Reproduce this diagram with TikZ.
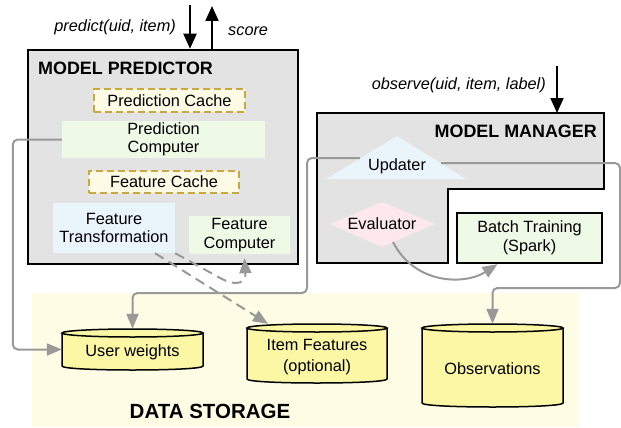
\documentclass[tikz,border=0pt]{standalone}
\usepackage{fontspec}
\setmainfont{Liberation Sans}
\usetikzlibrary{arrows.meta}
\definecolor{boxgray}{HTML}{E3E3E3}
\definecolor{cachefill}{HTML}{FDFBE6}
\definecolor{cacheline}{HTML}{C9A83E}
\definecolor{greenfill}{HTML}{EEF9E6}
\definecolor{bluefill}{HTML}{E9F4FB}
\definecolor{pinkfill}{HTML}{FDE8EE}
\definecolor{storefill}{HTML}{FEFCE5}
\definecolor{cylfill}{HTML}{FBF7A5}
\definecolor{conn}{HTML}{999999}
\newcommand\mytxt{\fontsize{16.3}{18.5}\selectfont}
\newcommand\mytitle{\fontsize{17.9}{20}\selectfont\bfseries}
\newcommand\dbcyl[6]{%
  \pgfmathsetmacro\cylcx{(#2+#3)/2}%
  \pgfmathsetmacro\cylrx{(#3-#2)/2}%
  \pgfmathsetmacro\cylcy{(#4+#5)/2}%
  \pgfmathsetmacro\cylh{#5-#4+2*#6}%
  \fill[cylfill] (#2,#4) rectangle (#3,#5);
  \fill[cylfill] (#2,#5) .. controls (#2,#5+#6*4/3) and (#3,#5+#6*4/3) .. (#3,#5) -- cycle;
  \draw[line width=1.5pt] (#2,#4) -- (#2,#5) .. controls (#2,#5+#6*4/3) and (#3,#5+#6*4/3) .. (#3,#5) -- (#3,#4);
  \draw[line width=1.5pt, fill=cylfill] (\cylcx,#4) ellipse [x radius=\cylrx pt, y radius=#6pt];
  \node[inner sep=0pt, minimum width=\cylrx*2pt, minimum height=\cylh pt] (#1) at (\cylcx,\cylcy) {};
}
\tikzset{
  txt/.style={font=\mytxt, align=center, inner sep=0pt},
  bigbox/.style={draw=black, line width=2.5pt, fill=boxgray, inner sep=0pt},
  cachebox/.style={draw=cacheline, fill=cachefill, line width=1.6pt, dash pattern=on 7pt off 4pt, font=\mytxt, inner sep=0pt},
  compbox/.style={fill=greenfill, font=\mytxt, align=center, inner sep=0pt},
  transbox/.style={fill=bluefill, font=\mytxt, align=center, inner sep=0pt},
  batchbox/.style={draw=black, line width=2.5pt, fill=greenfill, font=\mytxt, align=center, inner sep=0pt},
  connector/.style={draw=conn, line width=2pt, rounded corners=5pt, -{Triangle[length=15pt,width=12pt]}},
  dashconn/.style={draw=conn, line width=2pt, dash pattern=on 10pt off 6pt, -{Triangle[length=15pt,width=12pt]}},
  callarrow/.style={draw=black, line width=2pt, -{Triangle[length=15pt,width=13pt]}},
}
\begin{document}
\begin{tikzpicture}[x=1pt,y=-1pt]
\useasboundingbox (0,0) rectangle (621,428);
% data storage background
\fill[storefill] (32,293) rectangle (579,427);
\node[font=\fontsize{20.5}{24}\selectfont\bfseries, inner sep=0pt] (dstitle) at (210,411) {DATA STORAGE};

% model predictor
\node[bigbox, minimum width=270pt, minimum height=214pt] (mp) at (163,157) {};
\node[font=\mytitle, anchor=west, inner sep=0pt] (mptitle) at (38,68) {MODEL PREDICTOR};
\node[cachebox, minimum width=151pt, minimum height=23pt] (pcache) at (169.5,100.5) {Prediction Cache};
\node[compbox, minimum width=203pt, minimum height=37pt] (pc) at (163.5,139.5) {Prediction\\Computer};
\node[cachebox, minimum width=150pt, minimum height=22pt] (fcache) at (164,182) {Feature Cache};
\node[transbox, minimum width=122pt, minimum height=50pt] (ft) at (114,228) {Feature\\Transformation};
\node[compbox, minimum width=101pt, minimum height=38pt] (fc) at (239.5,235) {Feature\\Computer};

% model manager
\draw[line width=2.5pt, fill=boxgray] (317,113) -- (604,113) coordinate (mmNE) -- (604,189) -- (448,189) -- (448,263) -- (317,263) -- cycle;
\node[font=\mytitle, anchor=east, inner sep=0pt] (mmtitle) at (597,131) {MODEL MANAGER};
\fill[bluefill] (326,179) -- (397,136) -- (466,179) -- cycle;
\node[txt] (upd) at (397,166) {Updater};
\coordinate (updL) at (360,158);
\coordinate (updR) at (441,163);
\fill[pinkfill] (330,224) -- (382,202) -- (435,224) -- (382,247) -- cycle;
\node[txt] (eval) at (382,224) {Evaluator};
\coordinate (evalS) at (393,242);
\node[batchbox, minimum width=145pt, minimum height=50pt] (bt) at (529.5,238) {Batch Training\\(Spark)};

% storage cylinders
\dbcyl{uw}{62}{203}{333}{366}{4}
\dbcyl{ifeat}{247}{387}{328}{379}{4}
\dbcyl{obs}{422}{563}{328}{403}{4}
\node[txt] (uwt) at (132.5,352) {User weights};
\node[font=\fontsize{16.3}{20.5}\selectfont, align=center, inner sep=0pt] (ift) at (317,357) {Item Features\\(optional)};
\node[txt] (obst) at (492.5,369) {Observations};

% external calls
\coordinate (pin) at (190,5);
\coordinate (pout) at (212,6);
\coordinate (oin) at (557,66);
\draw[callarrow] (pin) -- (pin |- mp.north);
\draw[callarrow] (pout |- mp.north) -- (pout);
\draw[callarrow] (oin) -- (oin |- mmNE);
\node[font={\mytxt\itshape}, anchor=east, inner sep=0pt] (predlbl) at (176,27) {predict(uid, item)};
\node[font={\mytxt\itshape}, anchor=west, inner sep=0pt] (scorelbl) at (228,31) {score};
\node[font={\mytxt\itshape}, anchor=east, inner sep=0pt] (obslbl) at (546,85) {observe(uid, item, label)};

% connectors
\coordinate (j1) at (307,293);
\coordinate (j2) at (620,288);
\draw[connector] (pc.west) -- ++(-49,0) |- (uw.west);
\draw[connector] (updL) -| (j1) -| (uw.north);
\draw[connector] (updR) -| (j2) -| (obs.north);
\draw[connector] (evalS) .. controls (415,285) and (465,285) .. ([xshift=-32pt]bt.south);
\draw[dashconn] ([xshift=41pt]ft.south) -- ([xshift=-49pt]ifeat.north);
\draw[dashconn] (ft.south east) -- (222,279) .. controls (238,287) and (246,282) .. ([xshift=5pt,yshift=-4pt]fc.south);
\end{tikzpicture}
\end{document}
